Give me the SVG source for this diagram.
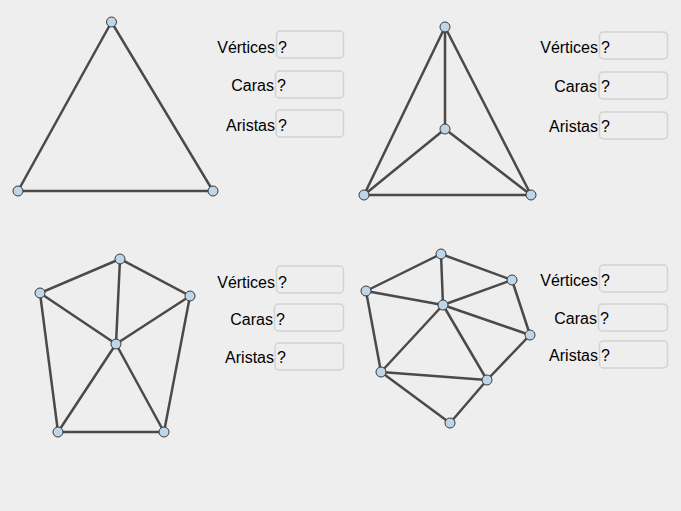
<svg xmlns="http://www.w3.org/2000/svg" width="681" height="511" viewBox="0 0 681 511">
<style>
.e{stroke:#4a4a4a;stroke-width:2.5;stroke-linecap:round;fill:none}
.n{fill:#bfd5e8;stroke:#3a3a3a;stroke-width:1}
.lb{font-family:"Liberation Sans",Arial,sans-serif;font-size:16px;fill:#000;text-anchor:end}
.q{font-family:"Liberation Sans",Arial,sans-serif;font-size:16px;fill:#000}
.bx{fill:#eeeeee;stroke:#d2d2d2;stroke-width:1.5}
</style>
<rect width="681" height="511" fill="#eeeeee"/>
<g id="connectors">
<path class="e" d="M111.5,22L18,191L213,191Z"/>
<path class="e" d="M445,27L364,195L531,195Z M445,27L445,129 M445,129L364,195 M445,129L531,195"/>
<path class="e" d="M120,259L40,293L58,432L164,432L190,296Z M116,344L120,259 M116,344L40,293 M116,344L190,296 M116,344L58,432 M116,344L164,432"/>
<path class="e" d="M441,254L366,291 M441,254L512,280 M441,254L443,305 M366,291L443,305 M512,280L443,305 M366,291L381,372 M443,305L530,335 M443,305L381,372 M443,305L487,380 M512,280L530,335 M530,335L487,380 M381,372L487,380 M381,372L450,423 M487,380L450,423"/>
</g>
<g id="nodes">
<circle class="n" cx="111.5" cy="22" r="5"/><circle class="n" cx="18" cy="191" r="5"/><circle class="n" cx="213" cy="191" r="5"/>
<circle class="n" cx="445" cy="27" r="5"/><circle class="n" cx="445" cy="129" r="5"/><circle class="n" cx="364" cy="195" r="5"/><circle class="n" cx="531" cy="195" r="5"/>
<circle class="n" cx="120" cy="259" r="5"/><circle class="n" cx="40" cy="293" r="5"/><circle class="n" cx="190" cy="296" r="5"/><circle class="n" cx="116" cy="344" r="5"/><circle class="n" cx="58" cy="432" r="5"/><circle class="n" cx="164" cy="432" r="5"/>
<circle class="n" cx="441" cy="254" r="5"/><circle class="n" cx="366" cy="291" r="5"/><circle class="n" cx="512" cy="280" r="5"/><circle class="n" cx="443" cy="305" r="5"/><circle class="n" cx="530" cy="335" r="5"/><circle class="n" cx="381" cy="372" r="5"/><circle class="n" cx="487" cy="380" r="5"/><circle class="n" cx="450" cy="423" r="5"/>
</g>
<g id="inputs1">
<rect class="bx" x="276.5" y="31" width="67" height="27" rx="4"/><text class="lb" x="275" y="53">Vértices</text><text class="q" x="278" y="53">?</text>
<rect class="bx" x="275.5" y="71" width="68" height="27" rx="4"/><text class="lb" x="274" y="91">Caras</text><text class="q" x="277" y="91">?</text>
<rect class="bx" x="276" y="110" width="67.5" height="27" rx="4"/><text class="lb" x="275" y="131">Aristas</text><text class="q" x="278" y="131">?</text>
</g>
<g id="inputs2">
<rect class="bx" x="599.5" y="32" width="68" height="27" rx="4"/><text class="lb" x="598" y="53">Vértices</text><text class="q" x="601" y="53">?</text>
<rect class="bx" x="599" y="72" width="68.5" height="27" rx="4"/><text class="lb" x="597" y="92">Caras</text><text class="q" x="601" y="92">?</text>
<rect class="bx" x="599.5" y="112" width="68" height="27" rx="4"/><text class="lb" x="598" y="132">Aristas</text><text class="q" x="601" y="132">?</text>
</g>
<g id="inputs3">
<rect class="bx" x="276.5" y="266" width="67" height="27" rx="4"/><text class="lb" x="275" y="288">Vértices</text><text class="q" x="278" y="288">?</text>
<rect class="bx" x="274.5" y="304" width="69" height="27" rx="4"/><text class="lb" x="273" y="325">Caras</text><text class="q" x="276" y="325">?</text>
<rect class="bx" x="275" y="343" width="68.5" height="27" rx="4"/><text class="lb" x="274" y="363">Aristas</text><text class="q" x="277" y="363">?</text>
</g>
<g id="inputs4">
<rect class="bx" x="599.5" y="265" width="68" height="27" rx="4"/><text class="lb" x="598" y="286">Vértices</text><text class="q" x="601" y="286">?</text>
<rect class="bx" x="598.5" y="304" width="69" height="27" rx="4"/><text class="lb" x="597" y="324">Caras</text><text class="q" x="600" y="324">?</text>
<rect class="bx" x="599.5" y="341" width="68" height="27" rx="4"/><text class="lb" x="598" y="361">Aristas</text><text class="q" x="601" y="361">?</text>
</g>
</svg>
